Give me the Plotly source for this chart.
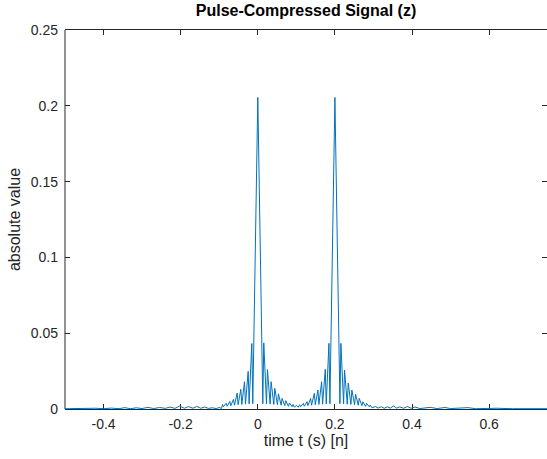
import plotly.graph_objects as go

# values (time in s, |z|)
t_tail_left = [-0.500, -0.460, -0.440, -0.420, -0.400, -0.380, -0.360, -0.345, -0.330,
               -0.315, -0.300, -0.285, -0.270, -0.255, -0.240, -0.228, -0.215, -0.203,
               -0.190, -0.180, -0.168, -0.158, -0.148, -0.138, -0.128, -0.118, -0.108,
               -0.100, -0.094]
v_tail_left = [0.0002, 0.0004, 0.0002, 0.0005, 0.0002, 0.0006, 0.0002, 0.0009, 0.0002,
               0.0008, 0.0003, 0.0011, 0.0003, 0.0010, 0.0004, 0.0013, 0.0004, 0.0019,
               0.0005, 0.0016, 0.0005, 0.0017, 0.0005, 0.0013, 0.0004, 0.0008, 0.0003,
               0.0010, 0.0004]

t_pulse1 = [-0.0915, -0.0890, -0.0820, -0.0795, -0.0725, -0.0700, -0.0630, -0.0605,
            -0.0535, -0.0510, -0.0440, -0.0415, -0.0345, -0.0320, -0.0250, -0.0225,
            -0.0155, -0.0130, 0.0000,
            0.0130, 0.0155, 0.0225, 0.0250, 0.0320, 0.0345, 0.0415, 0.0440, 0.0510,
            0.0535, 0.0605, 0.0630, 0.0700, 0.0725, 0.0795, 0.0820, 0.0890, 0.0915]
v_pulse1 = [0.0030, 0.0015, 0.0038, 0.0018, 0.0050, 0.0022, 0.0064, 0.0025,
            0.0105, 0.0028, 0.0130, 0.0030, 0.0180, 0.0032, 0.0248, 0.0034,
            0.0432, 0.0035, 0.2055,
            0.0035, 0.0436, 0.0034, 0.0260, 0.0032, 0.0180, 0.0030, 0.0136, 0.0028,
            0.0100, 0.0025, 0.0070, 0.0022, 0.0055, 0.0018, 0.0040, 0.0015, 0.0030]

t_middle = [0.0950, 0.1000, 0.1050]
v_middle = [0.0012, 0.0024, 0.0012]

t_pulse2 = [0.1085, 0.1110, 0.1180, 0.1205, 0.1275, 0.1300, 0.1370, 0.1395,
            0.1465, 0.1490, 0.1560, 0.1585, 0.1655, 0.1680, 0.1750, 0.1775,
            0.1845, 0.1870, 0.2000,
            0.2130, 0.2155, 0.2225, 0.2250, 0.2320, 0.2345, 0.2415, 0.2440, 0.2510,
            0.2535, 0.2605, 0.2630, 0.2700, 0.2725, 0.2795, 0.2820, 0.2890, 0.2915]
v_pulse2 = [0.0028, 0.0015, 0.0037, 0.0018, 0.0048, 0.0022, 0.0070, 0.0025,
            0.0103, 0.0028, 0.0125, 0.0030, 0.0180, 0.0032, 0.0262, 0.0034,
            0.0433, 0.0035, 0.2055,
            0.0035, 0.0433, 0.0034, 0.0257, 0.0032, 0.0172, 0.0030, 0.0125, 0.0028,
            0.0097, 0.0025, 0.0070, 0.0022, 0.0048, 0.0018, 0.0037, 0.0015, 0.0026]

t_tail_right = [0.296, 0.305, 0.312, 0.320, 0.328, 0.336, 0.344, 0.352, 0.360, 0.368,
                0.378, 0.388, 0.398, 0.408, 0.420, 0.447, 0.465, 0.485, 0.500, 0.545,
                0.565, 0.620, 0.660, 0.750]
v_tail_right = [0.0008, 0.0016, 0.0006, 0.0015, 0.0005, 0.0014, 0.0006, 0.0020, 0.0006,
                0.0014, 0.0005, 0.0016, 0.0005, 0.0013, 0.0003, 0.0011, 0.0003, 0.0010,
                0.0003, 0.0009, 0.0002, 0.0005, 0.0002, 0.0002]

x_ticks = [-0.4, -0.2, 0, 0.2, 0.4, 0.6]
x_labels = ["-0.4", "-0.2", "0", "0.2", "0.4", "0.6"]
y_ticks = [0, 0.05, 0.1, 0.15, 0.2, 0.25]
y_labels = ["0", "0.05", "0.1", "0.15", "0.2", "0.25"]

t = t_tail_left + t_pulse1 + t_middle + t_pulse2 + t_tail_right
z_abs = v_tail_left + v_pulse1 + v_middle + v_pulse2 + v_tail_right

ink = "#262626"
font = "Liberation Sans, Arial, Helvetica, sans-serif"

fig = go.Figure()
fig.add_trace(go.Scatter(
    x=t, y=z_abs, mode="lines",
    line=dict(color="#0072BD", width=1),
    hoverinfo="skip", showlegend=False
))

fig.update_layout(
    width=547, height=459,
    margin=dict(l=65, r=0, t=30, b=50),
    paper_bgcolor="white", plot_bgcolor="white",
    font=dict(family=font, size=14, color=ink),
    title=dict(text="<b>Pulse-Compressed Signal (z)</b>",
               x=0.5, xref="paper", y=1 - 10 / 459, yref="container",
               xanchor="center", yanchor="middle",
               font=dict(size=16, color="black")),
    showlegend=False,
)

fig.update_xaxes(
    range=[-0.5, 0.75], tickvals=x_ticks, ticktext=x_labels,
    showgrid=False, zeroline=False,
    showline=True, linecolor=ink, linewidth=1, mirror="ticks",
    ticks="inside", ticklen=5, tickcolor=ink, tickwidth=1,
    ticklabelstandoff=2, layer="below traces",
    title=dict(text="time t (s) [n]", font=dict(size=16), standoff=4),
)
fig.update_yaxes(
    range=[0, 0.25], tickvals=y_ticks, ticktext=y_labels,
    showgrid=False, zeroline=False,
    showline=False, mirror="ticks",
    ticks="inside", ticklen=5, tickcolor=ink, tickwidth=1,
    ticklabelstandoff=6, layer="below traces",
    title=dict(text="absolute value", font=dict(size=16), standoff=6),
)

# left axis line only (the right one falls just outside the picture)
fig.add_shape(type="line", xref="paper", yref="paper", x0=0, x1=0, y0=0, y1=1,
              line=dict(color=ink, width=1), layer="below")

# drop the browser's default 8px body margin so the figure sits at the page corner
fig.write_html("out.html", config={"displayModeBar": False},
               post_script="document.body.style.margin='0px';")
